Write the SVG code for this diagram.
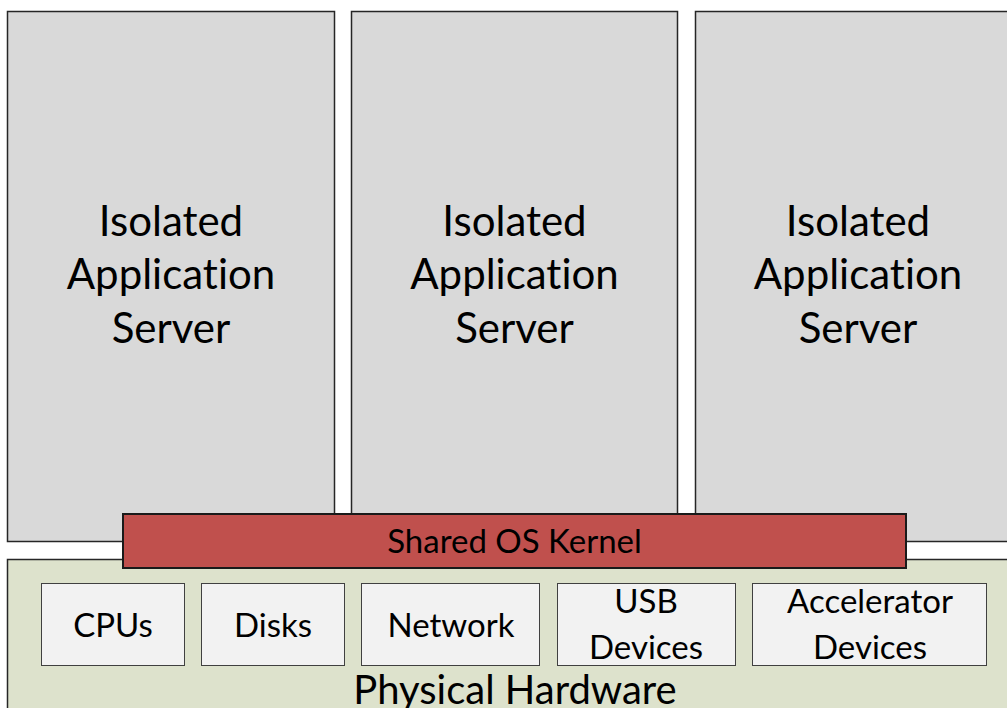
<svg xmlns="http://www.w3.org/2000/svg" width="1007" height="708" viewBox="0 0 1007 708">
  <style>
    .server { fill: #d9d9d9; stroke: #262626; stroke-width: 1.5; }
    .kernel { fill: #c0504d; stroke: #1a1a1a; stroke-width: 2; }
    .hw { fill: #dde2cc; stroke: #262626; stroke-width: 1.5; }
    .dev { fill: #f2f2f2; stroke: #404040; stroke-width: 1; }
    text { font-family: Lato, "Open Sans", "Liberation Sans", sans-serif; fill: #000; text-anchor: middle; font-variant-ligatures: none; }
    .big { font-size: 42px; }
    .mid { font-size: 33px; }
    .hwlabel { font-size: 40px; }
  </style>
  <rect width="1007" height="708" fill="#ffffff"/>

  <g id="server1">
    <rect class="server" x="7.5" y="11.5" width="327" height="530"/>
    <text class="big" x="171" y="236">Isolated</text>
    <text class="big" x="171" y="289">Application</text>
    <text class="big" x="171" y="343">Server</text>
  </g>
  <g id="server2">
    <rect class="server" x="351.5" y="11.5" width="326" height="530"/>
    <text class="big" x="514.5" y="236">Isolated</text>
    <text class="big" x="514.5" y="289">Application</text>
    <text class="big" x="514.5" y="343">Server</text>
  </g>
  <g id="server3">
    <rect class="server" x="695.5" y="11.5" width="326" height="530"/>
    <text class="big" x="858" y="236">Isolated</text>
    <text class="big" x="858" y="289">Application</text>
    <text class="big" x="858" y="343">Server</text>
  </g>

  <g id="hardware">
    <rect class="hw" x="7.5" y="559.5" width="1020" height="170"/>
    <text class="hwlabel" x="515" y="704">Physical Hardware</text>
  </g>

  <g id="kernel">
    <rect class="kernel" x="123" y="514" width="783" height="54"/>
    <text class="mid" x="514.5" y="553">Shared OS Kernel</text>
  </g>

  <g id="cpus">
    <rect class="dev" x="41.5" y="583.5" width="143" height="82"/>
    <text class="mid" x="113" y="637">CPUs</text>
  </g>
  <g id="disks">
    <rect class="dev" x="201.5" y="583.5" width="143" height="82"/>
    <text class="mid" x="273" y="637">Disks</text>
  </g>
  <g id="network">
    <rect class="dev" x="361.5" y="583.5" width="178" height="82"/>
    <text class="mid" x="451" y="637">Network</text>
  </g>
  <g id="usb">
    <rect class="dev" x="557.5" y="583.5" width="178" height="82"/>
    <text class="mid" x="646" y="613">USB</text>
    <text class="mid" x="646" y="659">Devices</text>
  </g>
  <g id="accelerator">
    <rect class="dev" x="752.5" y="583.5" width="234" height="82"/>
    <text class="mid" x="870" y="613">Accelerator</text>
    <text class="mid" x="870" y="659">Devices</text>
  </g>

  <g id="connectors"/>
</svg>
